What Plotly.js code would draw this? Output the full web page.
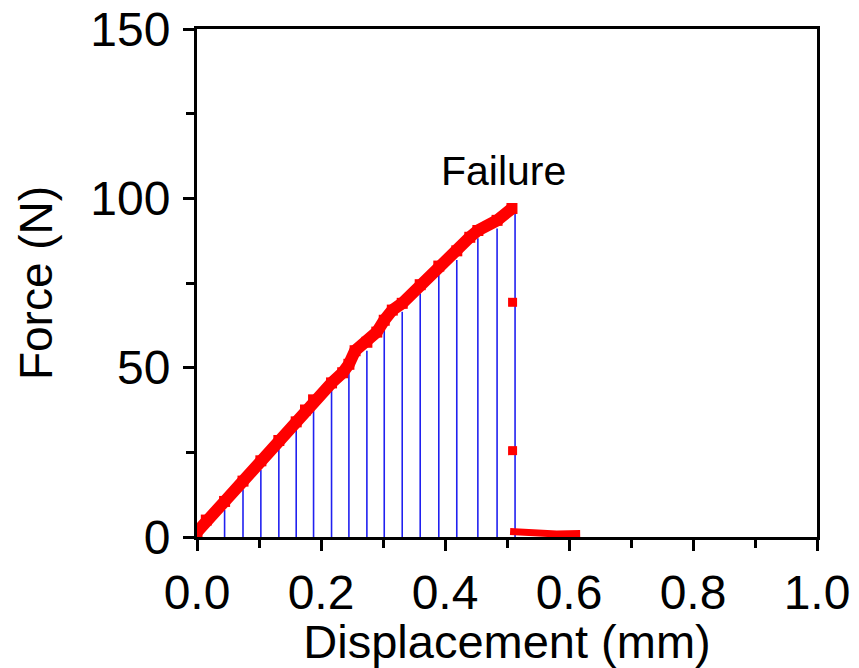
<!DOCTYPE html>
<html>
<head>
<meta charset="utf-8">
<script src="https://cdn.plot.ly/plotly-3.0.1.min.js"></script>
<style>html,body{margin:0;padding:0;background:#fff;}#chart{width:859px;height:668px;}</style>
</head>
<body>
<div id="chart"></div>
<script>
// Loading curve (before failure)
const curveX = [0.000, 0.015, 0.0445, 0.0742, 0.103, 0.132, 0.160, 0.175, 0.188, 0.217, 0.235, 0.245, 0.255, 0.274, 0.290, 0.302, 0.315, 0.331, 0.360, 0.390, 0.419, 0.440, 0.453, 0.484, 0.508];
const curveY = [1.5, 5.0, 10.5, 16.5, 22.5, 28.5, 34.0, 37.5, 40.5, 45.5, 48.5, 51.0, 55.0, 57.5, 60.5, 64.0, 67.0, 69.0, 74.5, 80.0, 84.5, 88.5, 90.5, 93.5, 97.0];
// Isolated points during the drop
const dropX = [0.509, 0.509];
const dropY = [69.3, 25.5];
// Residual force after failure
const postX = [0.505, 0.520, 0.540, 0.580, 0.618];
const postY = [1.6, 1.4, 1.0, 0.9, 1.0];
// Blue hatching stems (area under curve)
const stemX = [0.0445, 0.0742, 0.103, 0.132, 0.160, 0.188, 0.217, 0.245, 0.274, 0.302, 0.331, 0.360, 0.390, 0.419, 0.453, 0.484, 0.513];
const stemY = [8.0, 14.1, 19.8, 26.2, 31.8, 39.0, 43.9, 48.8, 55.0, 61.6, 66.5, 71.9, 77.4, 81.8, 88.2, 91.1, 96.5];

const sx = [], sy = [];
stemX.forEach((x, i) => { sx.push(x, x, null); sy.push(0, stemY[i], null); });

const FONT = 'Liberation Sans, Arial, sans-serif';
const red = '#ff0000';

const traces = [
  {x: sx, y: sy, mode: 'lines', line: {color: '#2020f0', width: 1.6}, hoverinfo: 'skip'},
  {x: curveX, y: curveY, mode: 'lines+markers', line: {color: red, width: 12}, marker: {symbol: 'square', size: 11, color: red}},
  {x: dropX, y: dropY, mode: 'markers', marker: {symbol: 'square', size: 9, color: red}},
  {x: postX, y: postY, mode: 'lines', line: {color: red, width: 7}}
];

const axisCommon = {
  showgrid: false, zeroline: false, showline: true, linecolor: '#000', linewidth: 3,
  mirror: true, ticks: 'outside', tickwidth: 3, ticklen: 11, tickcolor: '#000',
  tickfont: {family: FONT, size: 48, color: '#000'}
};

const layout = {
  width: 859, height: 668,
  margin: {l: 197, r: 42, t: 29, b: 131},
  paper_bgcolor: '#fff', plot_bgcolor: '#fff',
  showlegend: false,
  font: {family: FONT, color: '#000'},
  xaxis: Object.assign({}, axisCommon, {
    range: [0, 1], dtick: 0.2, tick0: 0, tickformat: '.1f',
    minor: {dtick: 0.1, ticks: 'outside', ticklen: 8, tickwidth: 3, tickcolor: '#000', showgrid: false},
    title: {text: 'Displacement (mm)', font: {family: FONT, size: 47, color: '#000'}, standoff: 0}
  }),
  yaxis: Object.assign({}, axisCommon, {
    range: [0, 150], dtick: 50, tick0: 0,
    minor: {dtick: 25, ticks: 'outside', ticklen: 8, tickwidth: 3, tickcolor: '#000', showgrid: false},
    ticklabelstandoff: 3,
    title: {text: 'Force (N)', font: {family: FONT, size: 46, color: '#000'}, standoff: 24}
  }),
  annotations: [
    {x: 0.495, y: 100.8, xref: 'x', yref: 'y', yanchor: 'bottom', xanchor: 'center', showarrow: false,
     text: 'Failure', font: {family: FONT, size: 41, color: '#000'}}
  ]
};

Plotly.newPlot('chart', traces, layout, {displayModeBar: false, staticPlot: true});
</script>
</body>
</html>
